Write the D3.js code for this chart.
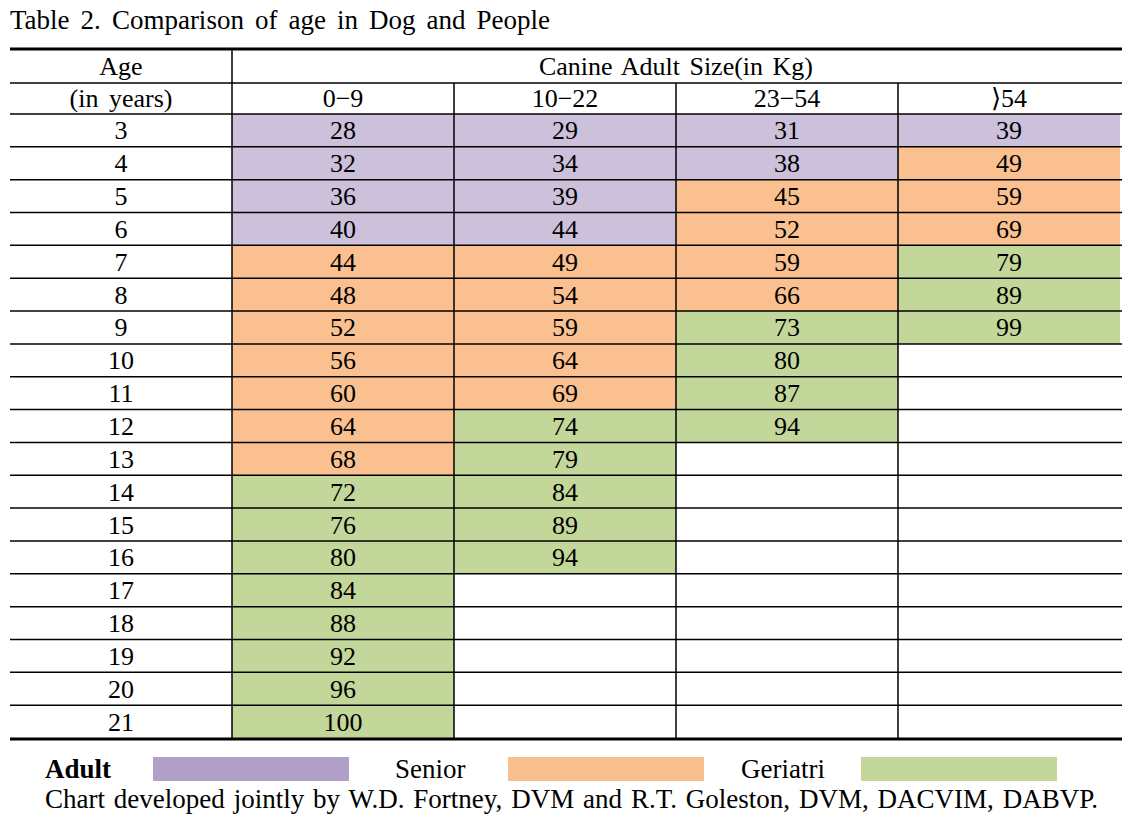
<!DOCTYPE html>
<html>
<head>
<meta charset="utf-8">
<script src="https://cdn.jsdelivr.net/npm/d3@7"></script>
<style>
  body { margin: 0; background: #fff; }
  text { font-family: "Liberation Serif", "DejaVu Serif", serif; fill: #000; }
</style>
</head>
<body>
<div id="chart"></div>
<script>
// ages (rows) and size groups (columns)
const ages = [3, 4, 5, 6, 7, 8, 9, 10, 11, 12, 13, 14, 15, 16, 17, 18, 19, 20, 21];
const sizeGroups = ['0−9', '10−22', '23−54', '⟩54'];

// human-equivalent age per size group, starting at dog age 3
const small  = [28, 32, 36, 40, 44, 48, 52, 56, 60, 64, 68, 72, 76, 80, 84, 88, 92, 96, 100];
const medium = [29, 34, 39, 44, 49, 54, 59, 64, 69, 74, 79, 84, 89, 94];
const large  = [31, 38, 45, 52, 59, 66, 73, 80, 87, 94];
const giant  = [39, 49, 59, 69, 79, 89, 99];

// dog age where senior / geriatric stage starts, per size group
const seniorFrom    = [7, 7, 5, 4];
const geriatricFrom = [14, 12, 9, 7];

const stages = ['Adult', 'Senior', 'Geriatri'];
const cellColors   = ['#ccc0da', '#fac090', '#c4d79b'];
const legendColors = ['#b1a0c7', '#fabf8f', '#c4d79b'];

const width = 1141, height = 818;
const fs = 26;
const svg = d3.select('#chart').append('svg')
    .attr('width', width)
    .attr('height', height);

const cols = ['Age'].concat(sizeGroups);
const x = d3.scaleBand().domain(cols).range([10, 1120]);
const y = d3.scaleBand().domain(ages).range([114, 738]);
const headTop = 49, headMid = 83;

// stretch the gaps between words so the line ends at the given width
function fitWords(sel, target) {
    const node = sel.node();
    const natural = node.getComputedTextLength();
    const gaps = node.textContent.split(' ').length - 1;
    if (gaps > 0) sel.attr('word-spacing', (target - natural) / gaps);
    return sel;
}

fitWords(svg.append('text')
    .attr('x', 10)
    .attr('y', 29)
    .attr('font-size', 27)
    .text('Table 2. Comparison of age in Dog and People'), 540);

// build cell list
const series = [small, medium, large, giant];
const cells = [];
series.forEach((vals, ci) => {
    vals.forEach((v, i) => {
        const age = ages[i];
        let stage = 0;
        if (age >= geriatricFrom[ci]) stage = 2;
        else if (age >= seniorFrom[ci]) stage = 1;
        cells.push({ col: sizeGroups[ci], age: age, value: v, stage: stage });
    });
});

const grid = svg.append('g');
grid.selectAll('rect.cell')
    .data(cells)
    .enter()
    .append('rect')
    .attr('class', 'cell')
    .attr('x', d => x(d.col))
    .attr('y', d => y(d.age))
    .attr('width', x.bandwidth())
    .attr('height', y.bandwidth())
    .attr('fill', d => cellColors[d.stage]);

grid.selectAll('text.val')
    .data(cells)
    .enter()
    .append('text')
    .attr('class', 'val')
    .attr('x', d => x(d.col) + x.bandwidth() / 2)
    .attr('y', d => y(d.age) + y.bandwidth() / 2 + 9)
    .attr('text-anchor', 'middle')
    .attr('font-size', fs)
    .text(d => d.value);

grid.selectAll('text.age')
    .data(ages)
    .enter()
    .append('text')
    .attr('class', 'age')
    .attr('x', x('Age') + x.bandwidth() / 2)
    .attr('y', d => y(d) + y.bandwidth() / 2 + 9)
    .attr('text-anchor', 'middle')
    .attr('font-size', fs)
    .text(d => d);

// header
grid.append('text')
    .attr('x', x('Age') + x.bandwidth() / 2)
    .attr('y', 75)
    .attr('text-anchor', 'middle')
    .attr('font-size', fs)
    .text('Age');
grid.append('text')
    .attr('x', x('Age') + x.bandwidth() / 2)
    .attr('y', 107)
    .attr('text-anchor', 'middle')
    .attr('font-size', fs)
    .attr('word-spacing', 4)
    .text('(in years)');
grid.append('text')
    .attr('x', (x(sizeGroups[0]) + x.range()[1]) / 2)
    .attr('y', 75)
    .attr('text-anchor', 'middle')
    .attr('font-size', fs)
    .attr('word-spacing', 3)
    .text('Canine Adult Size(in Kg)');
grid.selectAll('text.grp')
    .data(sizeGroups)
    .enter()
    .append('text')
    .attr('class', 'grp')
    .attr('x', d => x(d) + x.bandwidth() / 2)
    .attr('y', 107)
    .attr('text-anchor', 'middle')
    .attr('font-size', fs)
    .text(d => d);

// rules
const x0 = 10, x1 = 1122;
const hLines = [headMid, 114].concat(ages.slice(1).map(a => y(a)));
grid.selectAll('line.h')
    .data(hLines)
    .enter()
    .append('line')
    .attr('x1', x0).attr('x2', x1)
    .attr('y1', d => d).attr('y2', d => d)
    .attr('stroke', '#000')
    .attr('stroke-width', 1.5);
grid.append('line')
    .attr('x1', x(sizeGroups[0])).attr('x2', x(sizeGroups[0]))
    .attr('y1', headTop).attr('y2', 738)
    .attr('stroke', '#000').attr('stroke-width', 1.5);
grid.selectAll('line.v')
    .data(sizeGroups.slice(1))
    .enter()
    .append('line')
    .attr('x1', d => x(d)).attr('x2', d => x(d))
    .attr('y1', headMid).attr('y2', 738)
    .attr('stroke', '#000').attr('stroke-width', 1.5);
[headTop, 739].forEach(yy => {
    grid.append('line')
        .attr('x1', x0).attr('x2', x1)
        .attr('y1', yy).attr('y2', yy)
        .attr('stroke', '#000')
        .attr('stroke-width', 3.2);
});

// legend
const legendLabelX = [45, 395, 741];
const legendRectX = [153, 508, 861];
const legend = svg.append('g');
stages.forEach((s, i) => {
    legend.append('text')
        .attr('x', legendLabelX[i])
        .attr('y', 778)
        .attr('font-size', 27)
        .attr('font-weight', i === 0 ? 'bold' : 'normal')
        .text(s);
    legend.append('rect')
        .attr('x', legendRectX[i])
        .attr('y', 757)
        .attr('width', 196)
        .attr('height', 24)
        .attr('fill', legendColors[i]);
});

fitWords(svg.append('text')
    .attr('x', 45)
    .attr('y', 808)
    .attr('font-size', 27)
    .text('Chart developed jointly by W.D. Fortney, DVM and R.T. Goleston, DVM, DACVIM, DABVP.'), 1053);
</script>
</body>
</html>
